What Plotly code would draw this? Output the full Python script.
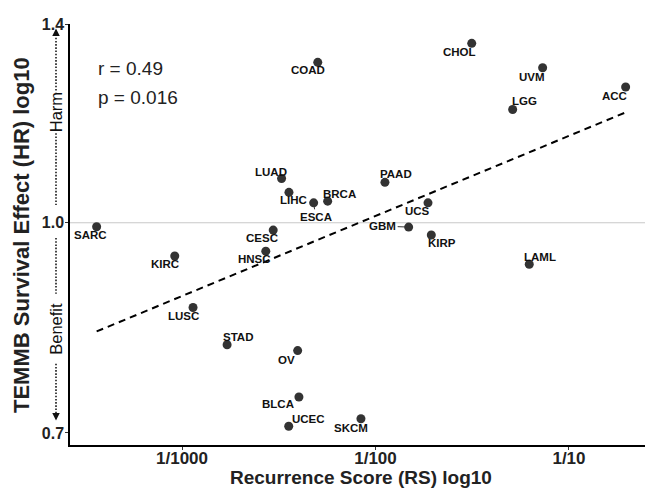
import math
import plotly.graph_objects as go

# ---- data ----
cancer = ["SARC", "KIRC", "LUSC", "STAD", "CESC", "HNSC", "LUAD", "LIHC", "UCEC", "OV",
          "BLCA", "ESCA", "COAD", "BRCA", "SKCM", "PAAD", "GBM", "UCS", "KIRP", "CHOL",
          "LGG", "LAML", "UVM", "ACC"]
recurrence_score = [3.62e-4, 9.17e-4, 1.14e-3, 1.71e-3, 2.96e-3, 2.71e-3, 3.27e-3, 3.57e-3, 3.56e-3, 3.96e-3,
                    4.02e-3, 4.79e-3, 5.03e-3, 5.66e-3, 8.41e-3, 0.01119, 0.01484, 0.01868, 0.01943, 0.03143,
                    0.05117, 0.06234, 0.0731, 0.1963]
hazard_ratio = [0.9932, 0.9452, 0.866, 0.813, 0.9877, 0.953, 1.078, 1.053, 0.708, 0.805,
                0.744, 1.0344, 1.313, 1.0374, 0.717, 1.071, 0.9927, 1.0344, 0.9794, 1.356,
                1.212, 0.932, 1.301, 1.259]
trend_x = [3.62e-4, 0.1963]
trend_y = [0.8316, 1.206]
x_tick_vals = [0.001, 0.01, 0.1]
x_tick_text = ["1/1000", "1/100", "1/10"]
y_tick_vals = [0.7, 1.0, 1.4]
y_tick_text = ["0.7", "1.0", "1.4"]
stats_text = ["r = 0.49", "p = 0.016"]

# ---- label placement (pixel offsets from point: dx right, dy down) ----
label_offset = {
    "COAD": (-10, 8), "LUAD": (-11, -7), "LIHC": (5, 8), "BRCA": (12, -7), "ESCA": (2, 14),
    "SARC": (-6, 8), "CESC": (-11, 8), "CHOL": (-12, 9), "UVM": (-11, 9), "LGG": (12, -8),
    "ACC": (-11, 9), "PAAD": (11, -8), "UCS": (-11, 8), "GBM": (-26, -1), "KIRP": (11, 8),
    "HNSC": (-11, 8), "KIRC": (-10, 8), "LUSC": (-10, 8), "STAD": (11, -8), "OV": (-11, 9),
    "BLCA": (-21, 7), "UCEC": (20, -7), "SKCM": (-10, 9), "LAML": (11, -7),
}
with_segment = {"ESCA", "GBM"}

W, H = 645, 491
L, R, T, B = 70, 0, 23.5, 45.5
PW, PH = W - L - R, H - T - B
FONT = "Liberation Sans, Arial, sans-serif"
DARK = "#333333"
ARROW_X = 56


def px_x(px):
    return (px - L) / PW


def px_y(py):
    return (H - B - py) / PH


fig = go.Figure()
fig.add_trace(go.Scatter(x=trend_x, y=trend_y, mode="lines",
                         line=dict(color="black", width=2, dash="7px,5px"),
                         hoverinfo="skip", showlegend=False))
fig.add_trace(go.Scatter(x=recurrence_score, y=hazard_ratio, mode="markers",
                         marker=dict(color=DARK, size=9),
                         text=cancer, showlegend=False))

annotations = []
for name, xv, yv in zip(cancer, recurrence_score, hazard_ratio):
    dx, dy = label_offset[name]
    lx, ly = math.log10(xv), math.log10(yv)
    common = dict(x=lx, y=ly, xref="x", yref="y", text="<b>%s</b>" % name,
                  font=dict(family=FONT, size=11.5, color="#111111"))
    if name in with_segment:
        annotations.append(dict(**common, showarrow=True, arrowhead=0, arrowwidth=1,
                                arrowcolor=DARK, ax=dx, ay=dy, standoff=3))
    else:
        annotations.append(dict(**common, showarrow=False, xshift=dx, yshift=-dy))

# stats text
for txt, py in zip(stats_text, [68, 97]):
    annotations.append(dict(x=px_x(96), y=px_y(py), xref="paper", yref="paper", text=txt,
                            showarrow=False, xanchor="left", yanchor="middle",
                            font=dict(family=FONT, size=19, color="#222222")))

# axis titles
annotations.append(dict(x=px_x(361), y=px_y(478), xref="paper", yref="paper",
                        text="<b>Recurrence Score (RS) log10</b>", showarrow=False,
                        xanchor="center", yanchor="middle",
                        font=dict(family=FONT, size=19, color="#222222")))
annotations.append(dict(x=px_x(22), y=px_y(235), xref="paper", yref="paper",
                        text="<b>TEMMB Survival Effect (HR) log10</b>", showarrow=False,
                        textangle=-90, xanchor="center", yanchor="middle",
                        font=dict(family=FONT, size=22, color="#222222")))
# Harm / Benefit
annotations.append(dict(x=px_x(ARROW_X), y=px_y(112), xref="paper", yref="paper", text="Harm",
                        showarrow=False, textangle=-90, xanchor="center", yanchor="middle",
                        font=dict(family=FONT, size=16.5, color="#111111")))
annotations.append(dict(x=px_x(ARROW_X), y=px_y(329), xref="paper", yref="paper", text="Benefit",
                        showarrow=False, textangle=-90, xanchor="center", yanchor="middle",
                        font=dict(family=FONT, size=16.5, color="#111111")))
# arrow heads
annotations.append(dict(x=px_x(ARROW_X), y=px_y(28), xref="paper", yref="paper", text="",
                        showarrow=True, arrowhead=2, arrowsize=1, arrowwidth=1.5,
                        arrowcolor="#111111", ax=0, ay=8))
annotations.append(dict(x=px_x(ARROW_X), y=px_y(421), xref="paper", yref="paper", text="",
                        showarrow=True, arrowhead=2, arrowsize=1, arrowwidth=1.5,
                        arrowcolor="#111111", ax=0, ay=-8))

shapes = [dict(type="line", xref="paper", yref="y", x0=0, x1=1, y0=1.0, y1=1.0,
               line=dict(color="#c8c8c8", width=1), layer="below")]
for a, b in [(34, 92), (133, 205), (238, 294), (364, 414)]:
    shapes.append(dict(type="line", xref="paper", yref="paper", x0=px_x(ARROW_X), x1=px_x(ARROW_X),
                       y0=px_y(a), y1=px_y(b),
                       line=dict(color="#1a1a1a", width=1.6, dash="1.6px,1.6px")))

fig.update_layout(
    width=W, height=H, margin=dict(l=L, r=R, t=T, b=B),
    paper_bgcolor="white", plot_bgcolor="white",
    annotations=annotations, shapes=shapes, showlegend=False,
    xaxis=dict(type="log", range=[-3.579, -0.607], tickvals=x_tick_vals, ticktext=x_tick_text,
               showgrid=False, zeroline=False, showline=True, linecolor="black", linewidth=1.5,
               ticks="outside", ticklen=3, tickwidth=1, tickcolor="#333333",
               ticklabelstandoff=-6,
               tickfont=dict(family=FONT, size=17, color="#222222", weight="bold")),
    yaxis=dict(type="log", range=[-0.1638, 0.1465], tickvals=y_tick_vals, ticktext=y_tick_text,
               showgrid=False, zeroline=False, showline=True, linecolor="black", linewidth=1.5,
               ticks="outside", ticklen=3, tickwidth=1, tickcolor="#333333",
               ticklabelstandoff=-2,
               tickfont=dict(family=FONT, size=16, color="#222222", weight="bold")),
)

fig.write_html("out.html")
